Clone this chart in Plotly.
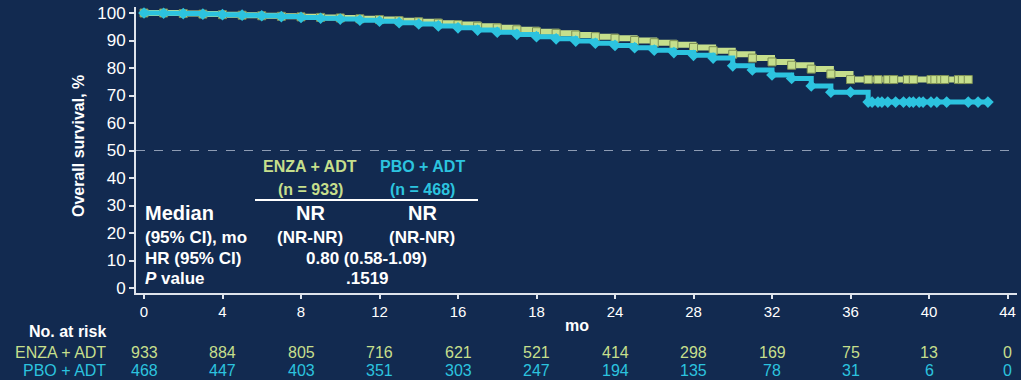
import plotly.graph_objects as go

# Kaplan-Meier overall survival (%) by month, with censored tail points
enza_months = [0, 1, 2, 3, 4, 5, 6, 7, 8, 9, 10, 11, 12, 13, 14, 15, 16, 17, 18, 19,
               20, 21, 22, 23, 24, 25, 26, 27, 28, 29, 30, 31, 32, 33, 34, 35, 36,
               36.9, 37.4, 37.9, 38.2, 38.9, 39.2, 40.1, 40.3, 40.6, 40.8, 41.5, 41.7, 42.0]
enza_surv = [100, 100, 99.8, 99.6, 99.4, 99.2, 99.0, 98.8, 98.6, 98.4, 98.2, 97.9, 97.6, 97.2,
             96.8, 96.3, 95.8, 95.2, 94.6, 93.9, 93.2, 92.6, 92.0, 91.4, 90.8, 90.0, 89.2,
             88.5, 87.5, 86.3, 85.0, 83.6, 82.2, 81.0, 79.6, 77.8, 75.8,
             75.8, 75.8, 75.8, 75.8, 75.8, 75.8, 75.8, 75.8, 75.8, 75.8, 75.8, 75.8, 75.8]

pbo_months = [0, 1, 2, 3, 4, 5, 6, 7, 8, 9, 10, 11, 12, 13, 14, 15, 16, 17, 18, 19,
              20, 21, 22, 23, 24, 25, 26, 27, 28, 29, 30, 31, 32, 33, 34, 35, 36,
              36.9, 37.1, 37.4, 37.6, 37.9, 38.3, 38.7, 39.0, 39.2, 39.5, 39.7, 40.1,
              40.4, 40.9, 42.0, 42.5, 43.0]
pbo_surv = [100, 99.9, 99.8, 99.6, 99.4, 99.2, 99.0, 98.7, 98.4, 98.1, 97.8, 97.4, 97.0,
            96.5, 96.0, 95.3, 94.6, 93.8, 93.0, 92.2, 91.4, 90.6, 89.8, 89.0, 88.2, 87.4,
            86.5, 85.6, 84.6, 83.6, 80.8, 79.3, 77.5, 76.2, 73.5, 71.2, 71.2,
            67.6, 67.6, 67.6, 67.6, 67.6, 67.6, 67.6, 67.6, 67.6, 67.6, 67.6, 67.6,
            67.6, 67.6, 67.6, 67.6, 67.6]

# Axis ticks
x_tickvals = [0, 4, 8, 12, 16, 20, 24, 28, 32, 36, 40, 44]
x_ticktext = ["0", "4", "8", "12", "16", "18", "24", "28", "32", "36", "40", "44"]
y_tickvals = [0, 10, 20, 30, 40, 50, 60, 70, 80, 90, 100]

# Number at risk
risk_enza = [933, 884, 805, 716, 621, 521, 414, 298, 169, 75, 13, 0]
risk_pbo = [468, 447, 403, 351, 303, 247, 194, 135, 78, 31, 6, 0]

BG = "#122a50"
GREEN = "#c6df8c"
CYAN = "#2cc3df"
WHITE = "#ffffff"
AXIS = "#dfe4ec"
FONT = "Arial, Liberation Sans, sans-serif"

W, H = 1021, 380
L, R, T, B = 136, 1017, 7, 293


def px(x):
    return (x - L) / (R - L)


def py(y):
    return (B - y) / (B - T)


fig = go.Figure()

fig.add_trace(go.Scatter(
    x=enza_months, y=enza_surv, mode="lines+markers", line_shape="hv",
    line=dict(color=GREEN, width=6),
    marker=dict(symbol="square", size=8, color=GREEN, line=dict(color="#7d8f55", width=1)),
    name="ENZA + ADT", hoverinfo="skip"))

fig.add_trace(go.Scatter(
    x=pbo_months, y=pbo_surv, mode="lines+markers", line_shape="hv",
    line=dict(color=CYAN, width=5),
    marker=dict(symbol="diamond", size=9, color=CYAN),
    name="PBO + ADT", hoverinfo="skip"))

# 50% reference line
fig.add_shape(type="line", xref="paper", yref="y", x0=0, x1=1, y0=50, y1=50,
              line=dict(color="#8e9cb4", width=1, dash="dash"), layer="below")

ann = []


def text(x, y, s, size=14, color=WHITE, anchor="center", bold=False):
    if bold:
        s = "<b>" + s + "</b>"
    ann.append(dict(x=px(x), y=py(y), xref="paper", yref="paper", text=s,
                    showarrow=False, xanchor=anchor, yanchor="middle",
                    font=dict(family=FONT, size=size, color=color)))


# Summary table inside the plot
text(310, 167, "ENZA + ADT", 16, GREEN, bold=True)
text(422, 167, "PBO + ADT", 16, CYAN, bold=True)
text(310, 190, "(n = 933)", 16, GREEN, bold=True)
text(422, 190, "(n = 468)", 16, CYAN, bold=True)
fig.add_shape(type="line", xref="paper", yref="paper", x0=px(255), x1=px(478),
              y0=py(200), y1=py(200), line=dict(color=WHITE, width=2))
text(143, 213, "Median", 20, anchor="left", bold=True)
text(310, 213, "NR", 20, bold=True)
text(422, 213, "NR", 20, bold=True)
text(143, 237, "(95% CI), mo", 17, anchor="left", bold=True)
text(310, 237, "(NR-NR)", 17, bold=True)
text(422, 237, "(NR-NR)", 17, bold=True)
text(143, 258, "HR (95% CI)", 17, anchor="left", bold=True)
text(366, 258, "0.80 (0.58-1.09)", 17, bold=True)
text(143, 278, "<i>P</i> value", 17, anchor="left", bold=True)
text(367, 278, ".1519", 17, bold=True)

# Axis titles
ann.append(dict(x=px(78), y=py(146), xref="paper", yref="paper",
                text="<b>Overall survival, %</b>", textangle=-90, showarrow=False,
                xanchor="center", yanchor="middle",
                font=dict(family=FONT, size=16, color=WHITE)))
text(577, 325, "mo", 16, bold=True)

# Number-at-risk table
text(108, 332, "No. at risk", 16, anchor="right", bold=True)
text(108, 352, "ENZA + ADT", 16, GREEN, anchor="right")
text(108, 370, "PBO + ADT", 16, CYAN, anchor="right")
for xv, a, b in zip(x_tickvals, risk_enza, risk_pbo):
    ann.append(dict(x=xv, y=py(352), xref="x", yref="paper", text=str(a), showarrow=False,
                    xanchor="center", yanchor="middle",
                    font=dict(family=FONT, size=16, color=GREEN)))
    ann.append(dict(x=xv, y=py(370), xref="x", yref="paper", text=str(b), showarrow=False,
                    xanchor="center", yanchor="middle",
                    font=dict(family=FONT, size=16, color=CYAN)))

x_per_px = 4 / 78.5
y_per_px = 100 / 275.0

fig.update_layout(
    width=W, height=H,
    margin=dict(l=L, r=W - R, t=T, b=H - B, pad=0),
    paper_bgcolor=BG, plot_bgcolor=BG,
    showlegend=False,
    annotations=ann,
    font=dict(family=FONT, size=14, color=WHITE),
    xaxis=dict(range=[-(144 - L) * x_per_px, (R - 144) * x_per_px],
               tickvals=x_tickvals, ticktext=x_ticktext,
               showgrid=False, zeroline=False, showline=True, linecolor=AXIS, linewidth=2,
               ticks="outside", ticklen=4, tickwidth=2, tickcolor=AXIS,
               tickfont=dict(family=FONT, size=15, color=WHITE)),
    yaxis=dict(range=[-(B - 288) * y_per_px, (288 - T) * y_per_px],
               tickvals=y_tickvals,
               showgrid=False, zeroline=False, showline=True, linecolor=AXIS, linewidth=2,
               ticks="outside", ticklen=5, tickwidth=2, tickcolor=AXIS,
               tickfont=dict(family=FONT, size=17, color=WHITE)),
)

fig.write_html("out.html")
